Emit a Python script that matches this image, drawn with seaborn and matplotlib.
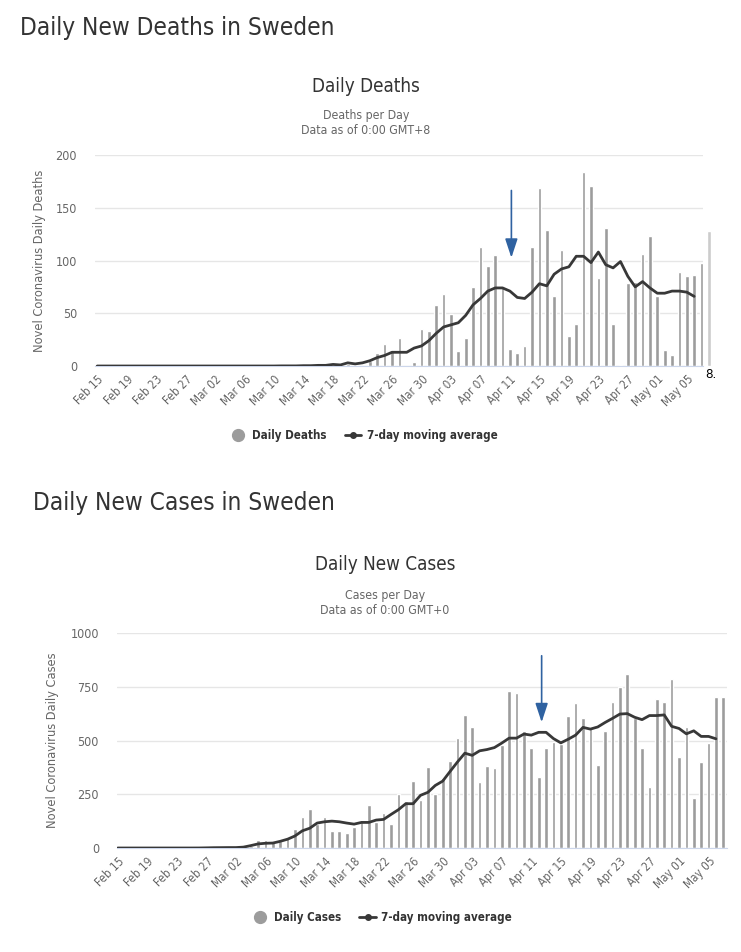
import numpy as np
import pandas as pd
import seaborn as sns
from matplotlib import pyplot as plt
from matplotlib.lines import Line2D

# x axis labels, one every 4 days starting Feb 15 2020
TICK_LABELS = ["Feb 15", "Feb 19", "Feb 23", "Feb 27", "Mar 02", "Mar 06", "Mar 10",
               "Mar 14", "Mar 18", "Mar 22", "Mar 26", "Mar 30", "Apr 03", "Apr 07",
               "Apr 11", "Apr 15", "Apr 19", "Apr 23", "Apr 27", "May 01", "May 05"]

# Feb 15 .. May 8
DAILY_DEATHS = ([0] * 25 +
                [1, 0, 0, 1, 0, 2, 0, 2, 0, 2, 1, 0, 5, 12, 21, 14, 27, 0, 4, 35, 33] +
                [58, 68, 49, 14, 27, 75, 113, 95, 105, 76, 16, 12, 19, 113, 169, 129, 66, 110,
                 28, 40, 184, 171, 83, 131, 40, 1, 79, 80, 106, 123] +
                [66, 15, 10, 89, 85, 86, 98, 128])

DEATHS_MA = ([0] * 25 +
             [0.1, 0.1, 0.1, 0.3, 0.3, 0.6, 0.6, 1.5, 1, 3, 2, 3, 5, 8, 10, 13, 13, 13, 17, 19, 24] +
             [31, 37, 39, 41, 48, 58, 64, 71, 74, 74, 71, 65, 64, 70, 78, 76, 87, 92, 94, 104,
              104, 98, 108, 96, 93, 99, 85, 75, 80, 74] +
             [69, 69, 71, 71, 70, 66, np.nan, np.nan])

# Feb 15 .. May 7
DAILY_CASES = ([0] * 11 + [1, 4, 5, 2] +
               [2, 2, 7, 9, 37, 37, 27, 33, 45, 89, 142, 183, 111, 142, 77, 77, 72, 100, 131,
                198, 123, 161, 111, 250, 220, 312, 225, 378, 250, 327, 406] +
               [511, 617, 561, 308, 383, 373, 481, 728, 722, 542, 463, 331, 463, 494, 484, 613,
                673, 603, 561, 388, 542, 680, 748, 811, 606, 463, 283, 692, 678, 786] +
               [425, 561, 231, 400, 489, 702, 702])

CASES_MA = ([0] * 11 + [0.1, 0.7, 1.4, 1.7] +
            [2, 2, 4, 11, 19, 22, 23, 31, 41, 56, 80, 92, 116, 122, 125, 122, 116, 111, 119,
             119, 130, 133, 156, 178, 206, 206, 245, 259, 291, 311, 356] +
            [400, 441, 431, 452, 458, 467, 488, 511, 511, 530, 525, 538, 538, 509, 489, 506,
             525, 561, 553, 563, 584, 603, 623, 625, 608, 597, 616, 616, 619, 566] +
            [556, 531, 545, 519, 519, 508, np.nan])

FONT = ['DejaVu Sans']
BAR_COLOR = '#9c9c9c'
LINE_COLOR = '#383838'
ARROW_COLOR = '#2f62a1'


def draw_panel(fig, rect, values, ma, ylim, yticks, ylabel, label_x, xlim):
    ax = fig.add_axes(rect)
    df = pd.DataFrame({"day": np.arange(len(values)), "value": values, "ma": ma})
    sns.barplot(data=df, x="day", y="value", color=BAR_COLOR, width=0.5,
                saturation=1, ax=ax, zorder=2)
    sns.lineplot(x=df["day"].to_numpy(), y=df["ma"].to_numpy(), color=LINE_COLOR,
                 lw=2, ax=ax, zorder=3)
    ax.set_xlim(*xlim)
    ax.set_ylim(*ylim)
    ax.set_yticks(yticks)
    ax.set_yticklabels([str(t) for t in yticks], color='#666666', fontsize=9)
    ax.set_xticks(np.arange(0, 4 * len(TICK_LABELS), 4))
    ax.set_xticklabels(TICK_LABELS, rotation=45, ha='right', rotation_mode='anchor',
                       color='#666666', fontsize=8.4)
    ax.tick_params(axis='y', length=0, pad=13)
    ax.tick_params(axis='x', length=0, pad=5)
    ax.set_xlabel("")
    ax.set_ylabel(ylabel, color='#666666', fontsize=9.2)
    ax.yaxis.set_label_coords(label_x, 0.5)
    ax.yaxis.grid(True, color='#e6e6e6', lw=1, zorder=0)
    ax.set_axisbelow(True)
    for side in ['top', 'right', 'left']:
        ax.spines[side].set_visible(False)
    ax.spines['bottom'].set_color('#ccd6eb')
    return ax


def add_legend(fig, bar_label, center):
    handles = [Line2D([], [], marker='o', color=BAR_COLOR, linestyle='none', markersize=8.5),
               Line2D([], [], marker='o', color=LINE_COLOR, lw=2, markersize=4)]
    fig.legend(handles, [bar_label, "7-day moving average"], loc='center', ncol=2,
               bbox_to_anchor=center, frameon=False, handlelength=1.4, columnspacing=1.6,
               handletextpad=0.5, prop={'family': FONT, 'weight': 'bold', 'size': 8.3,
                                        'stretch': 'condensed'},
               labelcolor='#333333')


def main():
    sns.set_style("white")
    plt.rcParams['font.family'] = FONT
    plt.rcParams['font.stretch'] = 'condensed'
    fig = plt.figure(figsize=(7.41, 9.52), dpi=100)

    # deaths panel
    fig.text(20 / 741, 1 - 28 / 952, "Daily New Deaths in Sweden", fontsize=17.5,
             color='#333333', va='center')
    fig.text(366 / 741, 1 - 87 / 952, "Daily Deaths", fontsize=13.5, color='#333333',
             ha='center', va='center')
    fig.text(366 / 741, 1 - 116 / 952, "Deaths per Day", fontsize=8.8, color='#666666',
             ha='center', va='center')
    fig.text(366 / 741, 1 - 130 / 952, "Data as of 0:00 GMT+8", fontsize=8.8,
             color='#666666', ha='center', va='center')
    ax1 = draw_panel(fig, [95 / 741, 1 - 366 / 952, 608 / 741, 211 / 952],
                     DAILY_DEATHS, DEATHS_MA, (0, 200), [0, 50, 100, 150, 200],
                     "Novel Coronavirus Daily Deaths", -0.08, (-0.3, 82.2))
    # last (partial day) bar is lighter and sits past the plot edge
    last = ax1.patches[len(DAILY_DEATHS) - 1]
    last.set_facecolor('#cccccc')
    last.set_clip_on(False)
    ax1.annotate("", xy=(56.2, 100), xytext=(56.2, 169),
                 arrowprops=dict(arrowstyle='-|>,head_length=1.15,head_width=0.38',
                                 color=ARROW_COLOR, lw=1.2))
    fig.text(705 / 741, 1 - 375 / 952, "8.", fontsize=9.5, color='black', va='center')
    add_legend(fig, "Daily Deaths", (364 / 741, 1 - 436 / 952))

    # cases panel
    fig.text(33 / 741, 1 - 503 / 952, "Daily New Cases in Sweden", fontsize=17.5,
             color='#333333', va='center')
    fig.text(385 / 741, 1 - 565 / 952, "Daily New Cases", fontsize=13.5, color='#333333',
             ha='center', va='center')
    fig.text(385 / 741, 1 - 595 / 952, "Cases per Day", fontsize=8.8, color='#666666',
             ha='center', va='center')
    fig.text(385 / 741, 1 - 610 / 952, "Data as of 0:00 GMT+0", fontsize=8.8,
             color='#666666', ha='center', va='center')
    ax2 = draw_panel(fig, [117 / 741, 1 - 848 / 952, 610 / 741, 215 / 952],
                     DAILY_CASES, CASES_MA, (0, 1000), [0, 250, 500, 750, 1000],
                     "Novel Coronavirus Daily Cases", -0.095, (-0.1, 82.5))
    ax2.annotate("", xy=(57.4, 572), xytext=(57.4, 907),
                 arrowprops=dict(arrowstyle='-|>,head_length=1.15,head_width=0.38',
                                 color=ARROW_COLOR, lw=1.2))
    add_legend(fig, "Daily Cases", (382 / 741, 1 - 918 / 952))

    fig.savefig("out.png", dpi=100)


if __name__ == '__main__':
    main()
